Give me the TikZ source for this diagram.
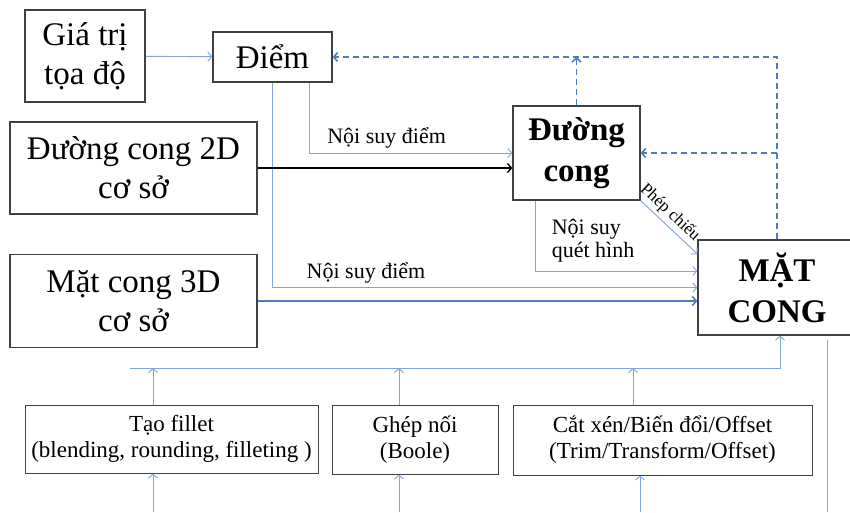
\documentclass[tikz,border=0pt]{standalone}
\usepackage{fontspec}
\setmainfont{Liberation Serif}
\usetikzlibrary{arrows.meta}
\definecolor{nhat}{RGB}{126,166,216}
\definecolor{dam}{RGB}{74,126,192}

\begin{document}
\begin{tikzpicture}[x=1pt,y=-1pt,
		hop/.style={draw=black!75,line width=1.2pt,fill=white,align=center,inner sep=0pt,font=\fontsize{33}{39}\selectfont},
		hopdam/.style={hop,font=\fontsize{33}{41}\selectfont\bfseries},
		hopnho/.style={hop,line width=1pt,font=\fontsize{23}{26}\selectfont},
		nhan/.style={font=\fontsize{22}{23}\selectfont,inner sep=1pt},
		noi/.style={draw=nhat,line width=0.9pt,-{Straight Barb[length=4pt,width=9pt]}},
		noidam/.style={noi,draw=dam,line width=1.6pt},
		netdut/.style={noidam,dash pattern=on 6pt off 4pt}]
		\fill[white] (0,0) rectangle (850,512);
		\useasboundingbox (0,0) rectangle (850,512);
		
		% cac hop
		\node[hop,minimum width=120,minimum height=92] (gtri) at (85,56) {Giá trị\\tọa độ};
		\node[hop,minimum width=119,minimum height=50] (diem) at (272.5,57) {Điểm};
		\node[hop,minimum width=247,minimum height=92] (dc2d) at (133.5,168) {Đường cong 2D\\cơ sở};
		\node[hop,minimum width=247,minimum height=93] (mc3d) at (133.5,301) {Mặt cong 3D\\cơ sở};
		\node[hopdam,minimum width=127,minimum height=94] (dcong) at (576.5,153) {Đường\\cong};
		\node[hopdam,minimum width=158,minimum height=95] (mcong) at (777,287.5) {MẶT\\CONG};
		\node[hopnho,minimum width=293,minimum height=68] (fillet) at (171.5,439) {Tạo fillet\\(blending, rounding, filleting )};
		\node[hopnho,minimum width=166,minimum height=69] (ghep) at (415,439.5) {Ghép nối\\(Boole)};
		\node[hopnho,minimum width=299,minimum height=70] (catxen) at (662.5,440) {Cắt xén/Biến đổi/Offset\\(Trim/Transform/Offset)};
		
		% noi suy
		\draw[noi] (gtri) -- (diem);
		\draw[noi] ([xshift=37pt]diem.south) |- (dcong.west)
			node[nhan,pos=0.69,above=3pt] {Nội suy điểm};
		\draw[noi] (diem.south) |- (mcong.west)
			node[nhan,pos=0.61,above=3pt] {Nội suy điểm};
		\draw[noi,draw=black,line width=1.4pt] (dc2d.east) -- (dc2d.east -| dcong.west);
		\draw[noidam] (mc3d.east) -- (mc3d.east -| mcong.west);
		\draw[noi] ([xshift=-41.5pt]dcong.south) |- ([yshift=16.5pt]mcong.west);
		\node[nhan,align=left] (qhinh) at (593,241) {Nội suy\\quét hình};
		\draw[noi] (dcong.south east) -- ([yshift=33.5pt]mcong.west)
			node[nhan,font=\fontsize{17}{19}\selectfont,pos=0.38,sloped,above=2pt] {Phép chiếu};
		
		% duong nguoc lai (net dut)
		\draw[netdut] (mcong.north) |- (diem.east);
		\draw[netdut] (dcong.north) -- (dcong.north |- diem.east);
		\draw[netdut] (mcong.north |- dcong.east) -- (dcong.east);
		
		% cac phep bien doi phia duoi
		\coordinate (bus) at (130,368);
		\draw[noi] (bus) -| ([xshift=3pt]mcong.south);
		\draw[noi] ([xshift=-18.5pt]fillet.north) -- ([xshift=-18.5pt]fillet.north |- bus);
		\draw[noi] ([xshift=-16pt]ghep.north) -- ([xshift=-16pt]ghep.north |- bus);
		\draw[noi] ([xshift=-29.5pt]catxen.north) -- ([xshift=-29.5pt]catxen.north |- bus);
		\coordinate (v1) at (153,512);
		\coordinate (v2) at (399,512);
		\coordinate (v3) at (640,512);
		\coordinate (ra) at (827,512);
		\draw[noi] (v1) -- (v1 |- fillet.south);
		\draw[noi] (v2) -- (v2 |- ghep.south);
		\draw[noi] (v3) -- (v3 |- catxen.south);
		\draw[noi,-] (ra) -- ([yshift=-4pt]mcong.south -| ra);
	\end{tikzpicture}
\end{document}
